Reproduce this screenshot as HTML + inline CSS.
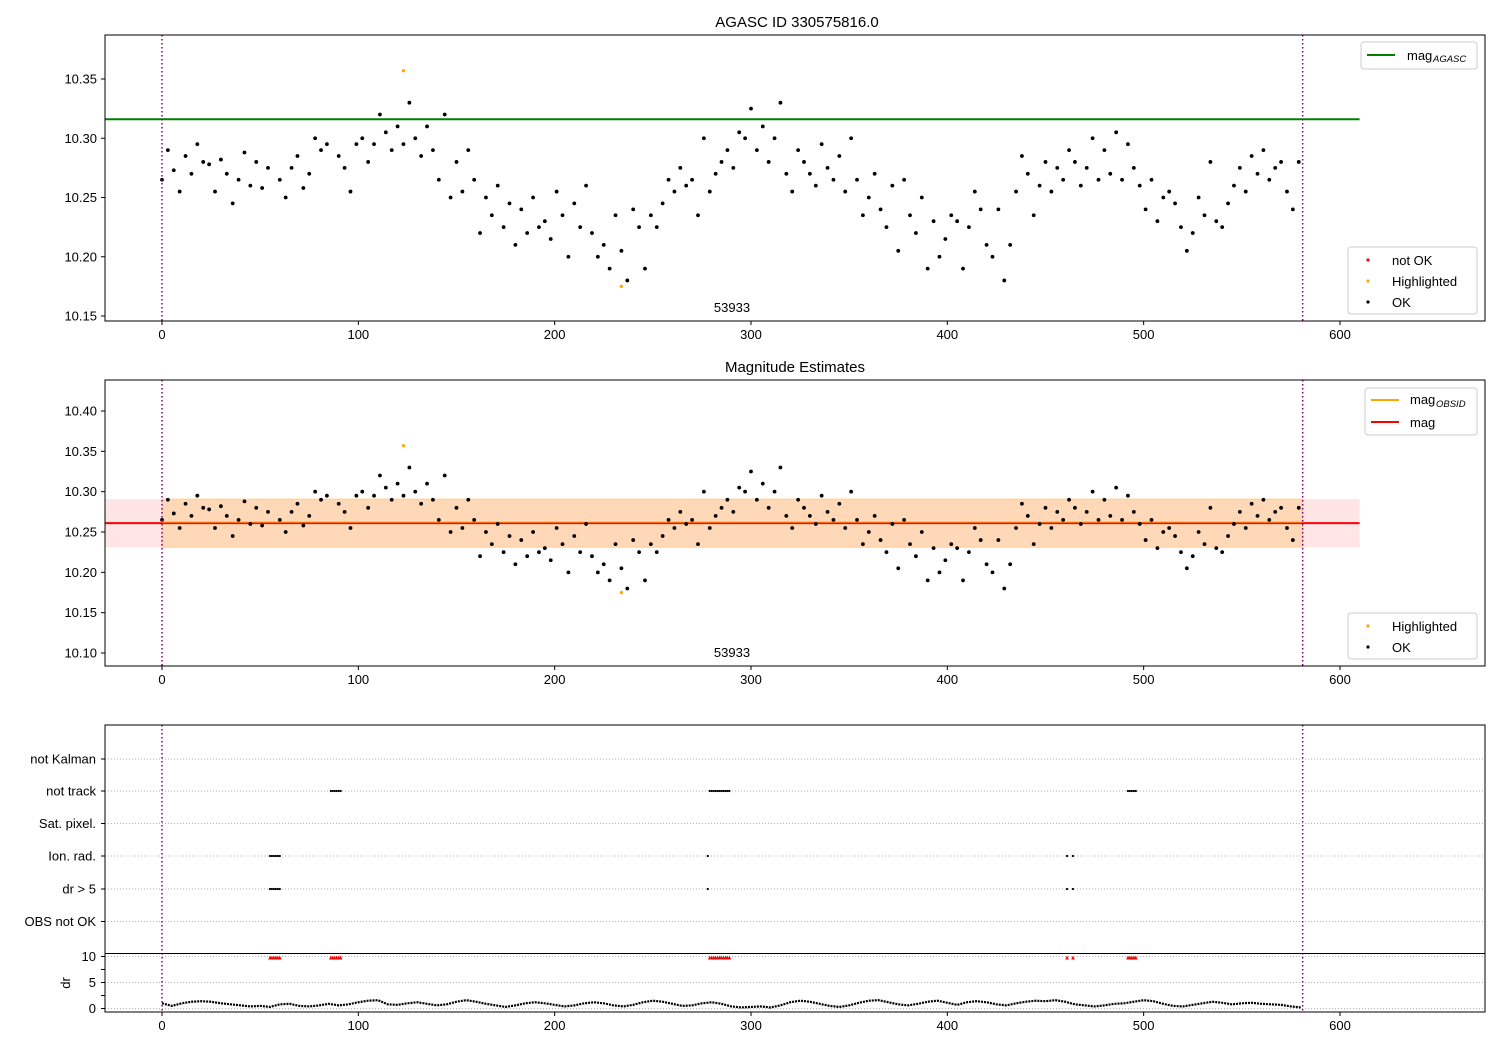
<!DOCTYPE html>
<html><head><meta charset="utf-8"><style>
body{margin:0;background:#fff}
svg{display:block;font-family:"Liberation Sans","DejaVu Sans",sans-serif}
</style></head><body>
<svg id="c" width="1500" height="1050" xmlns="http://www.w3.org/2000/svg"></svg>
<script>
const magIdx=[0,3,6,9,12,15,18,21,24,27,30,33,36,39,42,45,48,51,54,60,63,66,69,72,75,78,81,84,90,93,96,99,102,105,108,111,114,117,120,123,126,129,132,135,138,141,144,147,150,153,156,159,162,165,168,171,174,177,180,183,186,189,192,195,198,201,204,207,210,213,216,219,222,225,228,231,234,237,240,243,246,249,252,255,258,261,264,267,270,273,276,279,282,285,288,291,294,297,300,303,306,309,312,315,318,321,324,327,330,333,336,339,342,345,348,351,354,357,360,363,366,369,372,375,378,381,384,387,390,393,396,399,402,405,408,411,414,417,420,423,426,429,432,435,438,441,444,447,450,453,456,459,462,465,468,471,474,477,480,483,486,489,492,495,498,501,504,507,510,513,516,519,522,525,528,531,534,537,540,543,546,549,552,555,558,561,564,567,570,573,576,579];
const magVal=[10.265,10.29,10.273,10.255,10.285,10.27,10.295,10.28,10.278,10.255,10.282,10.27,10.245,10.265,10.288,10.26,10.28,10.258,10.275,10.265,10.25,10.275,10.285,10.258,10.27,10.3,10.29,10.295,10.285,10.275,10.255,10.295,10.3,10.28,10.295,10.32,10.305,10.29,10.31,10.295,10.33,10.3,10.285,10.31,10.29,10.265,10.32,10.25,10.28,10.255,10.29,10.265,10.22,10.25,10.235,10.26,10.225,10.245,10.21,10.24,10.22,10.25,10.225,10.23,10.215,10.255,10.235,10.2,10.245,10.225,10.26,10.22,10.2,10.21,10.19,10.235,10.205,10.18,10.24,10.225,10.19,10.235,10.225,10.245,10.265,10.255,10.275,10.26,10.265,10.235,10.3,10.255,10.27,10.28,10.29,10.275,10.305,10.3,10.325,10.29,10.31,10.28,10.3,10.33,10.27,10.255,10.29,10.28,10.27,10.26,10.295,10.275,10.265,10.285,10.255,10.3,10.265,10.235,10.25,10.27,10.24,10.225,10.26,10.205,10.265,10.235,10.22,10.25,10.19,10.23,10.2,10.215,10.235,10.23,10.19,10.225,10.255,10.24,10.21,10.2,10.24,10.18,10.21,10.255,10.285,10.27,10.235,10.26,10.28,10.255,10.275,10.265,10.29,10.28,10.26,10.275,10.3,10.265,10.29,10.27,10.305,10.265,10.295,10.275,10.26,10.24,10.265,10.23,10.25,10.255,10.245,10.225,10.205,10.22,10.25,10.235,10.28,10.23,10.225,10.245,10.26,10.275,10.255,10.285,10.27,10.29,10.265,10.275,10.28,10.255,10.24,10.28];
const hiIdx=[123,234];
const hiVal=[10.357,10.175];
const magAgasc=10.316, magObs=10.261, magStd=0.030;
const drIdx=[0,5,10,15,20,25,30,35,40,45,50,55,60,65,70,75,80,85,90,95,100,105,110,115,120,125,130,135,140,145,150,155,160,165,170,175,180,185,190,195,200,205,210,215,220,225,230,235,240,245,250,255,260,265,270,275,280,285,290,295,300,305,310,315,320,325,330,335,340,345,350,355,360,365,370,375,380,385,390,395,400,405,410,415,420,425,430,435,440,445,450,455,460,465,470,475,480,485,490,495,500,505,510,515,520,525,530,535,540,545,550,555,560,565,570,575,580];
const drVal=[1,0.5,1,1.3,1.4,1.3,1,0.8,0.6,0.4,0.5,0.3,0.8,0.9,0.5,0.4,0.6,0.9,0.6,0.8,1.2,1.5,1.6,0.8,0.7,1.0,1.2,0.9,0.6,0.8,1.3,1.6,1.3,0.9,0.6,0.3,0.6,1.0,1.2,1.0,0.7,0.4,0.6,1.0,1.2,1.0,0.6,0.4,0.7,1.2,1.5,1.3,0.9,0.5,0.6,1.0,1.2,0.9,0.4,0.2,0.3,0.4,0.2,0.6,1.2,1.5,1.3,0.9,0.5,0.3,0.6,1.1,1.5,1.6,1.2,0.8,0.6,0.9,1.3,1.5,1.1,0.7,1.2,1.4,1.2,0.8,0.6,1.0,1.3,1.5,1.4,1.6,1.3,0.8,0.6,0.4,0.6,0.9,1.0,1.3,1.6,1.4,0.9,0.5,0.4,0.7,1.0,1.3,1.1,0.8,1.0,1.1,0.9,0.8,0.7,0.4,0.2];
const flagNames=["not Kalman","not track","Sat. pixel.","Ion. rad.","dr > 5","OBS not OK"];
const notTrack=[86,87,88,89,90,91,279,280,281,282,283,284,285,286,287,288,289,492,493,494,495,496];
const ionRad=[55,56,57,58,59,60,278,461,464];
const drBig=[55,56,57,58,59,60,86,87,88,89,90,91,279,280,281,282,283,284,285,286,287,288,289,461,464,492,493,494,495,496];
const xTicks=[0,100,200,300,400,500,600];

const S=document.getElementById('c');const NS='http://www.w3.org/2000/svg';
function el(t,a,p){const e=document.createElementNS(NS,t);for(const k in a)e.setAttribute(k,a[k]);(p||S).appendChild(e);return e;}
function tx(x,y,s,a,p){const e=el('text',Object.assign({x:x,y:y,'font-size':13,fill:'#000'},a||{}),p);e.textContent=s;return e;}
const X=v=>162+(v)*1.9633;
const Y1=v=>79+(10.35-v)*1185;
const Y2=v=>411+(10.40-v)*806.7;
const YD=v=>1008.5-v*5.2;
const flagY=[759,791,823.5,856,889,921.5];

function xaxis(yb,name){
  const g=el('g',{});
  
  xTicks.forEach(t=>{el('line',{x1:X(t),x2:X(t),y1:yb,y2:yb+4,stroke:'#000'},g);tx(X(t),yb+18,t,{'text-anchor':'middle'},g);});
}
function yaxis(ticks,fy,name,fmt){
  const g=el('g',{});
  
  ticks.forEach(t=>{el('line',{x1:101,x2:105,y1:fy(t),y2:fy(t),stroke:'#000'},g);tx(97,fy(t)+4.5,fmt(t),{'text-anchor':'end'},g);});
}
function vlines(y0,y1){[0,581].forEach(v=>{const l=el('line',{x1:X(v),x2:X(v),y1:y0,y2:y1,stroke:'#800080','stroke-width':1.5,'stroke-dasharray':'1.5,2.5'});});}
function dots(idx,val,fx,fy,col,r,name){const g=el('g',{fill:col});idx.forEach((i,k)=>el('circle',{cx:X(i),cy:fy(val[k]),r:r},g));}

// Panel 1
tx(797,27,'AGASC ID 330575816.0',{'text-anchor':'middle','font-size':15});
const l1=el('line',{x1:105,x2:X(610),y1:Y1(magAgasc),y2:Y1(magAgasc),stroke:'#008000','stroke-width':2});

dots(magIdx,magVal,X,Y1,'#000',1.9,'ok-points-1');
dots(hiIdx,hiVal,X,Y1,'orange',1.6,'highlighted-points-1');
vlines(35,321);
tx(732,312,'53933',{'text-anchor':'middle'});
el('rect',{x:105,y:35,width:1380,height:286,fill:'none',stroke:'#000'});
xaxis(321,'x-axis-1');
yaxis([10.15,10.20,10.25,10.30,10.35],Y1,'y-axis-1',t=>t.toFixed(2));
let g=el('g',{});
el('rect',{x:1361,y:42,width:116,height:27,rx:3,fill:'#fff',stroke:'#ccc'},g);
el('line',{x1:1367,x2:1395,y1:55,y2:55,stroke:'#008000','stroke-width':2},g);
tx(1407,60,'mag',{},g);tx(1433,62,'AGASC',{'font-size':9.5,'font-style':'italic'},g);
g=el('g',{});
el('rect',{x:1348,y:247,width:129,height:67,rx:3,fill:'#fff',stroke:'#ccc'},g);
[['red','not OK',260],['orange','Highlighted',281],['#000','OK',302]].forEach(a=>{el('circle',{cx:1368,cy:a[2],r:1.6,fill:a[0]},g);tx(1392,a[2]+5,a[1],{},g);});

// Panel 2
tx(795,372,'Magnitude Estimates',{'text-anchor':'middle','font-size':15});
const b1=el('rect',{x:105,y:Y2(magObs+magStd),width:X(610)-105,height:Y2(magObs-magStd)-Y2(magObs+magStd),fill:'rgba(255,0,0,0.1)'});

const b2=el('rect',{x:X(0),y:Y2(magObs+magStd),width:X(581)-X(0),height:Y2(magObs-magStd)-Y2(magObs+magStd),fill:'rgba(255,165,0,0.2)',stroke:'rgba(255,165,0,0.3)'});

const l2=el('line',{x1:105,x2:X(610),y1:Y2(magObs),y2:Y2(magObs),stroke:'red','stroke-width':2});

const l3=el('line',{x1:X(0),x2:X(581),y1:Y2(magObs)-1,y2:Y2(magObs)-1,stroke:'orange','stroke-width':1});

dots(magIdx,magVal,X,Y2,'#000',1.9,'ok-points-2');
dots(hiIdx,hiVal,X,Y2,'orange',1.6,'highlighted-points-2');
vlines(380,666);
tx(732,657,'53933',{'text-anchor':'middle'});
el('rect',{x:105,y:380,width:1380,height:286,fill:'none',stroke:'#000'});
xaxis(666,'x-axis-2');
yaxis([10.10,10.15,10.20,10.25,10.30,10.35,10.40],Y2,'y-axis-2',t=>t.toFixed(2));
g=el('g',{});
el('rect',{x:1365,y:388,width:112,height:47,rx:3,fill:'#fff',stroke:'#ccc'},g);
el('line',{x1:1371,x2:1399,y1:400,y2:400,stroke:'orange','stroke-width':2},g);
tx(1410,404,'mag',{},g);tx(1436,407,'OBSID',{'font-size':9.5,'font-style':'italic'},g);
el('line',{x1:1371,x2:1399,y1:422,y2:422,stroke:'red','stroke-width':2},g);
tx(1410,427,'mag',{},g);
g=el('g',{});
el('rect',{x:1348,y:613,width:129,height:46,rx:3,fill:'#fff',stroke:'#ccc'},g);
[['orange','Highlighted',626],['#000','OK',647]].forEach(a=>{el('circle',{cx:1368,cy:a[2],r:1.6,fill:a[0]},g);tx(1392,a[2]+5,a[1],{},g);});

// Panel 3 flags
flagY.forEach((y,i)=>{el('line',{x1:105,x2:1485,y1:y,y2:y,stroke:'#b0b0b0','stroke-dasharray':'1,2'});el('line',{x1:101,x2:105,y1:y,y2:y,stroke:'#000'});tx(96,y+4.5,flagNames[i],{'text-anchor':'end'});});
function flagDots(arr,row,name){const gg=el('g',{fill:'#000'});arr.forEach(i=>el('circle',{cx:X(i),cy:flagY[row],r:1.1},gg));}
flagDots(notTrack,1,'not-track-flags');
flagDots(ionRad,3,'ion-rad-flags');
flagDots(ionRad,4,'dr-gt-5-flags');
[10,5,0].forEach(v=>{el('line',{x1:105,x2:1485,y1:YD(v),y2:YD(v),stroke:'#b0b0b0','stroke-dasharray':'1,2'});el('line',{x1:101,x2:105,y1:YD(v),y2:YD(v),stroke:'#000'});tx(96,YD(v)+4.5,v,{'text-anchor':'end'});});
el('line',{x1:101,x2:105,y1:YD(7.5),y2:YD(7.5),stroke:'#000'});
el('line',{x1:101,x2:105,y1:YD(2.5),y2:YD(2.5),stroke:'#000'});
tx(70,983,'dr',{'text-anchor':'middle',transform:'rotate(-90 70 983)'});
const pl=el('polyline',{points:drIdx.map((i,k)=>X(i)+','+YD(drVal[k])).join(' '),fill:'none',stroke:'#000','stroke-width':2.2,'stroke-dasharray':'2,1'});

const gd=el('g',{fill:'red'});
drBig.forEach(i=>el('path',{d:`M${X(i)-1.8},${YD(9.8)+2}L${X(i)},${YD(9.8)-2}L${X(i)+1.8},${YD(9.8)+2}Z`},gd));
vlines(725,1012);
el('rect',{x:105,y:725,width:1380,height:287,fill:'none',stroke:'#000'});
el('line',{x1:105,x2:1485,y1:953.5,y2:953.5,stroke:'#000'});
xaxis(1012,'x-axis-3');
</script>
</body></html>
